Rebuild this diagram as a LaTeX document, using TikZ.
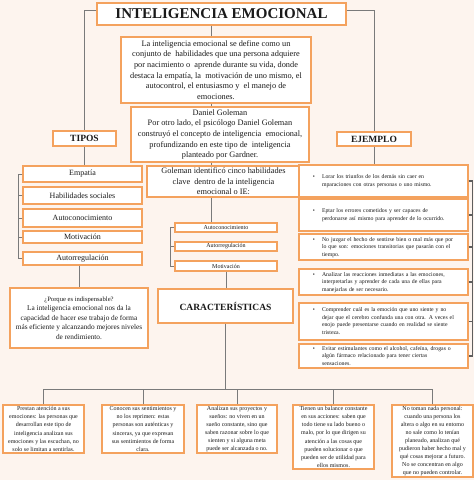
\documentclass[tikz,border=0pt]{standalone}
\usepackage{fontspec}
\setmainfont{Liberation Serif}
\usetikzlibrary{calc}
\definecolor{paper}  {HTML}{FDF4EE}
\definecolor{boxedge}{HTML}{F4A25E}
\definecolor{wire}   {HTML}{7A7A7A}
\definecolor{darkwire}{HTML}{5E5E5E}
\definecolor{ink}    {HTML}{1A1A1A}
\newcommand{\ejitem}[1]{\makebox[16pt][c]{\textbullet}\begin{tabular}[t]{@{}l@{}}#1\end{tabular}}
\tikzset{
  card/.style    ={draw=boxedge, fill=white, line width=1.3pt,
                   inner sep=0pt, align=center, text=ink},
  headbox/.style ={card, font=\fontsize{9.5}{11}\selectfont\bfseries},
  bigtext/.style ={card, font=\fontsize{8.3}{10.6}\selectfont},
  tipobox/.style ={card, minimum width=119pt, font=\fontsize{8}{9}\selectfont},
  tinybox/.style ={card, line width=1.2pt, minimum width=102pt,
                   font=\fontsize{6}{6.5}\selectfont},
  ejbox/.style   ={card, text width=155pt, inner xsep=7pt, align=left,
                   font=\fontsize{5.8}{7.5}\selectfont},
  charbox/.style ={card, minimum width=81pt, font=\fontsize{6}{8.1}\selectfont},
  link/.style    ={draw=wire, line width=0.8pt},
}
\begin{document}
\begin{tikzpicture}[x=1pt,y=-1pt]
    \fill[paper] (0,0) rectangle (474,480);
    \coordinate (spine) at (211,0);

    % Title and central column
    \node[card, minimum width=249pt, minimum height=22pt,
          font=\fontsize{15}{17}\selectfont\bfseries] (title) at (221.5,14)
      {INTELIGENCIA EMOCIONAL};
    \node[bigtext, minimum width=190pt, minimum height=66pt] (def) at (216,70)
      {La inteligencia emocional se define como un\\
       conjunto de \ habilidades que una persona adquiere\\
       por nacimiento o \ aprende durante su vida, donde\\
       destaca la empatía, la \ motivación de uno mismo, el\\
       autocontrol, el entusiasmo y \ el manejo de\\
       emociones.};
    \node[bigtext, minimum width=178pt, minimum height=55pt] (gol) at (220,134.5)
      {Daniel Goleman\\
       Por otro lado, el psicólogo Daniel Goleman\\
       construyó el concepto de inteligencia \ emocional,\\
       profundizando en este tipo de \ inteligencia\\
       planteado por Gardner.};
    \node[bigtext, minimum width=153pt, minimum height=31pt] (golid) at (223.5,181.5)
      {Goleman identificó cinco habilidades\\
       clave \ dentro de la inteligencia\\
       emocional o IE:};
    \draw[link] (title.south -| spine) -- (def.north -| spine);
    \draw[link] (def.south -| spine) -- (gol.north -| spine);
    \draw[link] (gol.south -| spine) -- (golid.north -| spine);

    % Five skills
    \node[tinybox, minimum height=9pt]  (s1) at (226,227.5) {Autoconocimiento};
    \node[tinybox, minimum height=9pt]  (s2) at (226,246.5) {Autorregulación};
    \node[tinybox, minimum height=10pt] (s3) at (226,266)   {Motivación};
    \draw[link] (golid.south -| spine) -- (s1.north -| spine);
    \draw[link] (s1.west) -- ++(-4,0) |- (s3.west);
    \draw[link] (s2.west) -- ++(-4,0);

    % Characteristics
    \node[headbox, minimum width=135pt, minimum height=34pt] (car) at (225.5,306)
      {CARACTERÍSTICAS};
    \draw[link] (s3.south) -- (s3.south |- car.north);

    \node[charbox, minimum height=48pt] (b1) at (43.5,429)
      {Prestan atención a sus\\ emociones: las personas que\\ desarrollan este tipo de\\
       inteligencia analizan sus\\ emociones y las escuchan, no\\ solo se limitan a sentirlas.};
    \node[charbox, minimum width=82pt, minimum height=48pt] (b2) at (143,429)
      {Conocen sus sentimientos y\\ no los reprimen: estas\\ personas son auténticas y\\
       sinceras, ya que expresan\\ sus sentimientos de forma\\ clara.};
    \node[charbox, minimum width=80pt, minimum height=48pt] (b3) at (237,429)
      {Analizan sus proyectos y\\ sueños: no viven en un\\ sueño constante, sino que\\
       saben razonar sobre lo que\\ sienten y si alguna meta\\ puede ser alcanzada o no.};
    \node[charbox, minimum height=64pt] (b4) at (333.5,437)
      {Tienen un balance constante\\ en sus acciones: saben que\\ todo tiene su lado bueno o\\
       malo, por lo que dirigen su\\ atención a las cosas que\\ pueden solucionar o que\\
       pueden ser de utilidad para\\ ellos mismos.};
    \node[charbox, minimum height=72pt] (b5) at (432.5,441)
      {No toman nada personal:\\ cuando una persona los\\ altera o algo en su entorno\\
       no sale como lo tenían\\ planeado, analizan qué\\ pudieron haber hecho mal y\\
       qué cosas mejorar a futuro.\\ No se concentran en algo\\ que no pueden controlar.};
    \coordinate (bus) at (0,389);
    \draw[link] (car.south) -- (car.south |- bus);
    \draw[link] (b1.north |- bus) -- (b5.north |- bus);
    \foreach \b in {b1,b2,b3,b4,b5}
      \draw[link] (\b.north) -- (\b.north |- bus);

    % Types
    \node[headbox, minimum width=63pt, minimum height=15pt] (tipos) at (84.5,138.5) {TIPOS};
    \draw[link] ([yshift=4pt]title.west) -| (tipos.north);
    \node[tipobox, minimum height=16pt] (t1) at (82.5,174)   {Empatía};
    \node[tipobox, minimum height=17pt] (t2) at (82.5,195.5) {Habilidades sociales};
    \node[tipobox, minimum height=18pt] (t3) at (82.5,218)   {Autoconocimiento};
    \node[tipobox, minimum height=12pt] (t4) at (82.5,237)   {Motivación};
    \node[tipobox, minimum height=13pt] (t5) at (82.5,258.5) {Autorregulación};
    \draw[link] (tipos.south) -- (tipos.south |- t1.north);
    \draw[link] (t1.west) -- ++(-4,0) |- (t5.west);
    \foreach \t in {t2,t3,t4}
      \draw[link] (\t.west) -- ++(-4,0);

    \node[card, minimum width=138pt, minimum height=60pt,
          font=\fontsize{7.3}{9.6}\selectfont] (porque) at (79,318)
      {{\fontsize{6.6}{9.6}\selectfont ¿Porque es indispensable?}\\
       La inteligencia emocional nos da la\\ capacidad de hacer ese trabajo de forma\\
       más eficiente y alcanzando mejores niveles\\ de rendimiento.};
    \draw[link] (t5.south -| porque.north) -- (porque.north);

    % Examples
    \node[headbox, minimum width=74pt, minimum height=14pt] (ejemplo) at (374,139) {EJEMPLO};
    \draw[link] ([yshift=4pt]title.east) -| (ejemplo.north);
    \node[ejbox, minimum height=32pt] (e1) at (383.5,181)
      {\ejitem{Lorar los triunfos de los demás sin caer en\\ mparaciones con otras personas o uno mismo.}};
    \node[ejbox, minimum height=32pt] (e2) at (383.5,215)
      {\ejitem{Eptar los errores cometidos y ser capaces de\\ perdonarse así mismo para aprender de lo ocurrido.}};
    \node[ejbox, minimum height=26pt] (e3) at (383.5,247)
      {\ejitem{No juzgar el hecho de sentirse bien o mal más que por\\ lo que son: emociones transitorias que pasarán con el\\ tiempo.}};
    \node[ejbox, minimum height=26pt] (e4) at (383.5,282)
      {\ejitem{Analizar las reacciones inmediatas a las emociones,\\ interpretarlas y aprender de cada una de ellas para\\ manejarlas de ser necesario.}};
    \node[ejbox, minimum height=37pt] (e5) at (383.5,321.5)
      {\ejitem{Comprender cuál es la emoción que uno siente y no\\ dejar que el cerebro confunda una con otra. A veces el\\ enojo puede presentarse cuando en realidad se siente\\ tristeza.}};
    \node[ejbox, minimum height=24pt] (e6) at (383.5,356)
      {\ejitem{Evitar estimulantes como el alcohol, cafeína, drogas o\\ algún fármaco relacionado para tener ciertas\\ sensaciones.}};
    \draw[link] (ejemplo.south) -- (ejemplo.south |- e1.north);
    \draw[link, draw=darkwire, line width=1.4pt] (e1.east) -- ++(4,0) |- (e6.east);
    \foreach \e in {e2,e3,e4,e5}
      \draw[link, draw=darkwire, line width=1.4pt] (\e.east) -- ++(4,0);
\end{tikzpicture}
\end{document}
